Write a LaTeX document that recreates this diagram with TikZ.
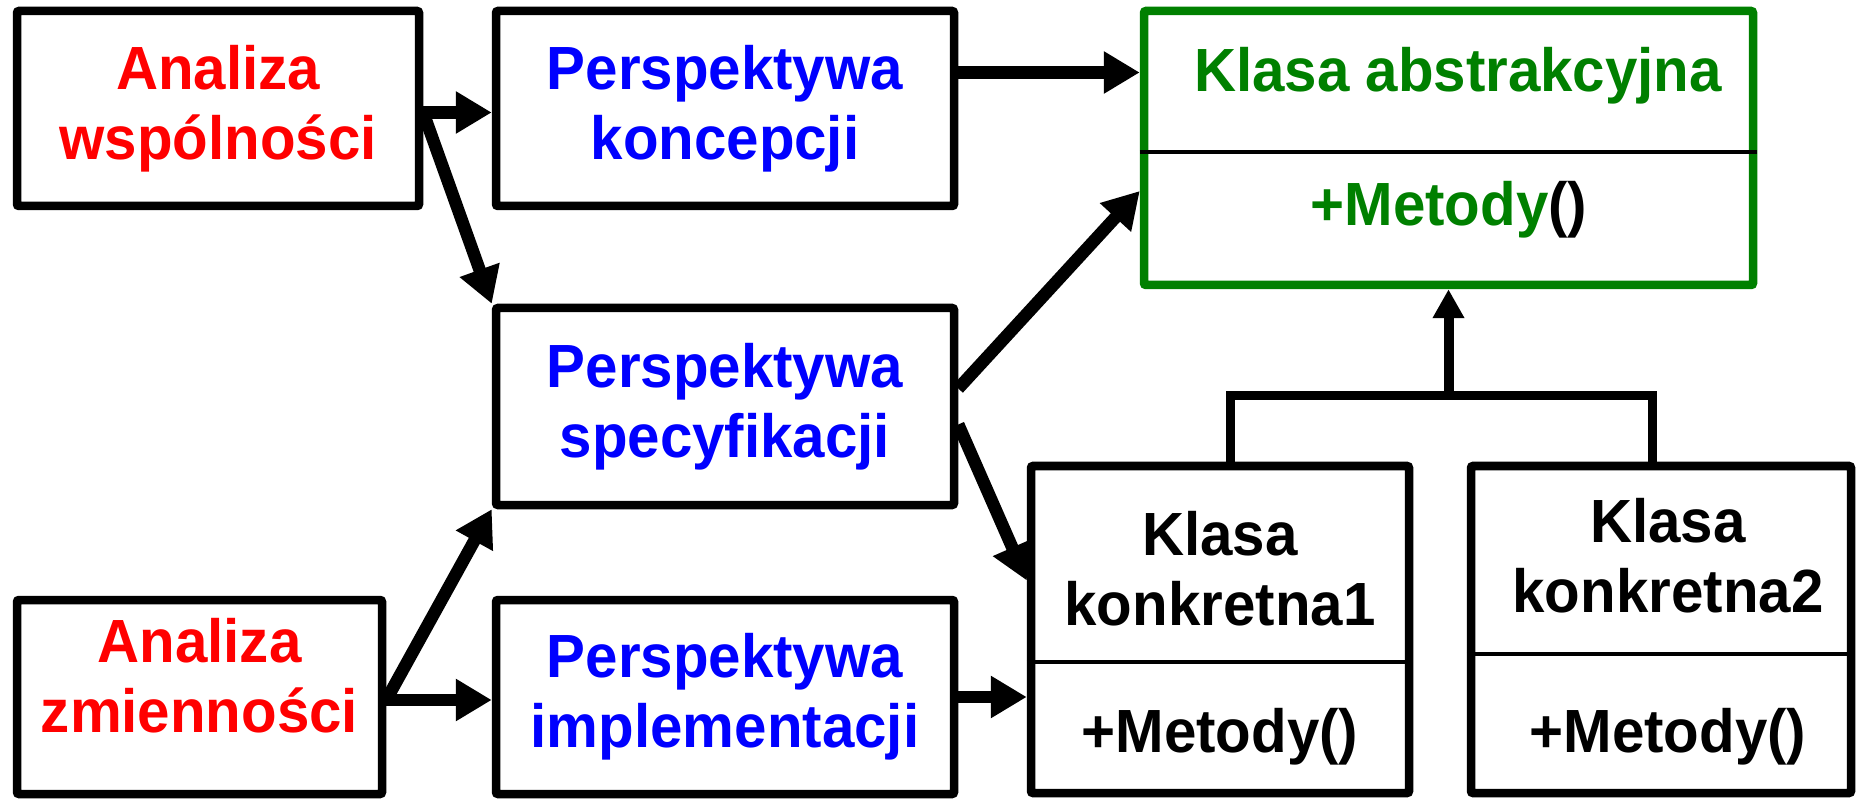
\documentclass[tikz,border=0pt]{standalone}
\usepackage{fontspec}
\setmainfont{Liberation Sans}[FakeStretch=0.955]
\usetikzlibrary{arrows.meta}
\definecolor{absgreen}{RGB}{0,128,0}
\tikzset{
	panel/.style = {draw=black, line width=8.5pt, rounded corners=2pt, inner sep=0pt, align=center, font=\fontsize{61}{70}\selectfont\bfseries},
	analysis/.style = {panel, text=red},
	view/.style = {panel, text=blue},
	umlclass/.style = {panel},
	classtext/.style = {inner sep=0pt, anchor=base, align=center, font=\fontsize{61}{70}\selectfont\bfseries},
	divider/.style = {line width=3.5pt},
	arr/.style = {line width=12.5pt, -{Triangle[length=36pt, width=40pt]}},
	inherit/.style = {line width=10pt, -{Triangle[length=29pt, width=30pt]}},
	link/.style = {line width=9pt}
}

\begin{document}
\begin{tikzpicture}[x=1pt, y=-1pt]
	\path[use as bounding box, fill=white] (0,0) rectangle (1856,799);
	\node[analysis, minimum width=402pt, minimum height=195pt] (wspol) at (218,108.5) {Analiza\\wspólności};
	\node[view, minimum width=458pt, minimum height=195pt] (koncep) at (725,108.5) {Perspektywa\\koncepcji};
	\node[view, minimum width=458pt, minimum height=197pt] (specyf) at (725,406.5) {Perspektywa\\specyfikacji};
	\node[analysis, minimum width=365pt, minimum height=194pt, text depth=44pt] (zmien) at (199.5,697) {Analiza\\zmienności};
	\node[view, minimum width=458pt, minimum height=194pt] (implem) at (725,697) {Perspektywa\\implementacji};
	\node[umlclass, draw=absgreen, minimum width=609pt, minimum height=274pt] (abstr) at (1448.5,148) {};
	\node[umlclass, minimum width=378pt, minimum height=327pt] (konk1) at (1220,629.5) {};
	\node[umlclass, minimum width=380pt, minimum height=327pt] (konk2) at (1661,629.5) {};
	\draw[divider] ([yshift=-4pt]abstr.west) -- ([yshift=-4pt]abstr.east);
	\draw[divider] ([yshift=-32.5pt]konk1.west) -- ([yshift=-32.5pt]konk1.east);
	\draw[divider] ([yshift=-24.5pt]konk2.west) -- ([yshift=-24.5pt]konk2.east);
	\node[classtext, text=absgreen] (abstrname) at (1458,92) {Klasa abstrakcyjna};
	\node[classtext, text=absgreen] (abstrmeth) at (1449,226) {+Metody{\color{black}()}};
	\node[classtext] (konk1name) at (1220,625) {Klasa\\konkretna1};
	\node[classtext] (konk1meth) at (1220,752) {+Metody()};
	\node[classtext] (konk2name) at (1668,612) {Klasa\\konkretna2};
	\node[classtext] (konk2meth) at (1668,752) {+Metody()};
	\coordinate (wspolout) at ([yshift=-4pt]wspol.east);
	\coordinate (koncepout) at ([yshift=36pt]koncep.east);
	\coordinate (zmienout) at ([yshift=-3pt]zmien.east);
	\draw[arr] (wspolout) -- (wspolout -| koncep.west);
	\draw[arr] (wspolout) -- (specyf.north west);
	\draw[arr] (koncepout) -- (koncepout -| abstr.west);
	\draw[arr] ([yshift=18pt]specyf.east) -- ([yshift=-43pt]abstr.west);
	\draw[arr] ([yshift=-18pt]specyf.east) -- ([yshift=49pt]konk1.west);
	\draw[arr] (zmienout) -- (zmienout -| implem.west);
	\draw[arr] (zmienout) -- (specyf.south west);
	\draw[arr] (implem.east) -- (implem.east -| konk1.west);
	\coordinate (joint) at ([yshift=-106pt]abstr.south);
	\draw[link] ([xshift=10pt]konk1.north) |- (joint) -| ([xshift=-9pt]konk2.north);
	\draw[inherit] (joint) -- (abstr.south);
\end{tikzpicture}
\end{document}
